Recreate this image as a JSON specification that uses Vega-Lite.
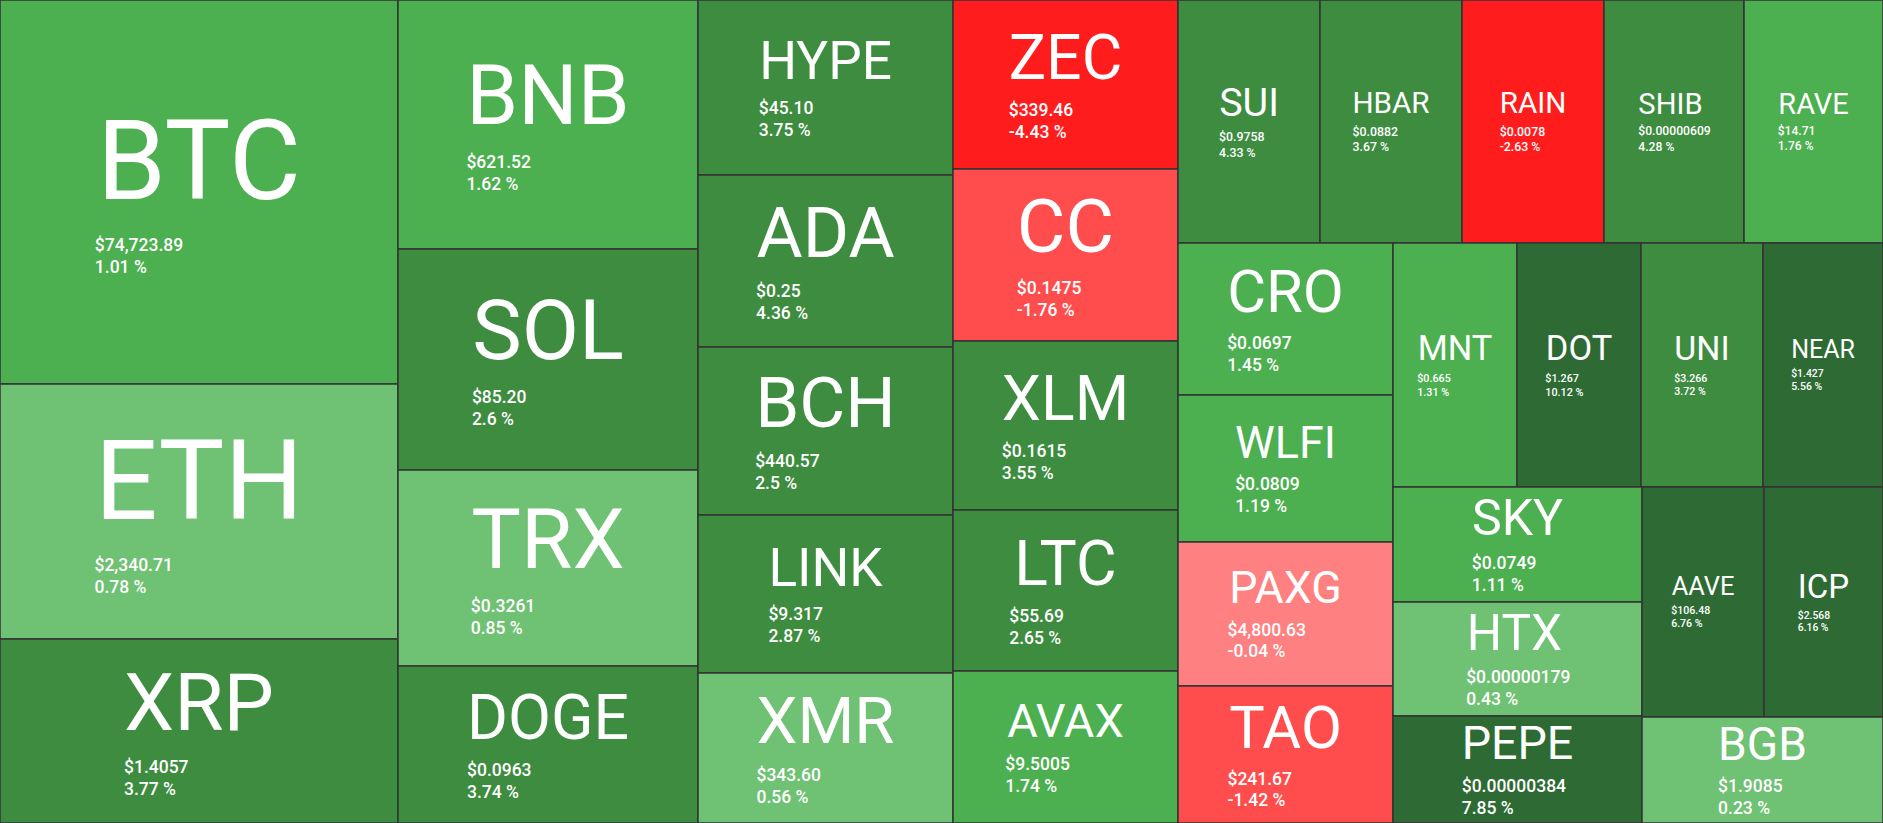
{
  "$schema": "https://vega.github.io/schema/vega-lite/v6.json",
  "width": 1883,
  "height": 823,
  "padding": 0,
  "autosize": {"type": "none"},
  "background": "#ffffff",
  "config": {"view": {"stroke": null}},
  "data": {
    "values": [
      {"name": "BTC", "price": "$74,723.89", "change": 1.01, "x0": 0, "x1": 398, "y0": 0, "y1": 384},
      {"name": "ETH", "price": "$2,340.71", "change": 0.78, "x0": 0, "x1": 398, "y0": 384, "y1": 639},
      {"name": "XRP", "price": "$1.4057", "change": 3.77, "x0": 0, "x1": 398, "y0": 639, "y1": 823},
      {"name": "BNB", "price": "$621.52", "change": 1.62, "x0": 398, "x1": 698, "y0": 0, "y1": 249},
      {"name": "SOL", "price": "$85.20", "change": 2.6, "x0": 398, "x1": 698, "y0": 249, "y1": 470},
      {"name": "TRX", "price": "$0.3261", "change": 0.85, "x0": 398, "x1": 698, "y0": 470, "y1": 666},
      {"name": "DOGE", "price": "$0.0963", "change": 3.74, "x0": 398, "x1": 698, "y0": 666, "y1": 823},
      {"name": "HYPE", "price": "$45.10", "change": 3.75, "x0": 698, "x1": 953, "y0": 0, "y1": 175},
      {"name": "ADA", "price": "$0.25", "change": 4.36, "x0": 698, "x1": 953, "y0": 175, "y1": 347},
      {"name": "BCH", "price": "$440.57", "change": 2.5, "x0": 698, "x1": 953, "y0": 347, "y1": 515},
      {"name": "LINK", "price": "$9.317", "change": 2.87, "x0": 698, "x1": 953, "y0": 515, "y1": 673},
      {"name": "XMR", "price": "$343.60", "change": 0.56, "x0": 698, "x1": 953, "y0": 673, "y1": 823},
      {"name": "ZEC", "price": "$339.46", "change": -4.43, "x0": 953, "x1": 1178, "y0": 0, "y1": 169},
      {"name": "CC", "price": "$0.1475", "change": -1.76, "x0": 953, "x1": 1178, "y0": 169, "y1": 341},
      {"name": "XLM", "price": "$0.1615", "change": 3.55, "x0": 953, "x1": 1178, "y0": 341, "y1": 510},
      {"name": "LTC", "price": "$55.69", "change": 2.65, "x0": 953, "x1": 1178, "y0": 510, "y1": 671},
      {"name": "AVAX", "price": "$9.5005", "change": 1.74, "x0": 953, "x1": 1178, "y0": 671, "y1": 823},
      {"name": "SUI", "price": "$0.9758", "change": 4.33, "x0": 1178, "x1": 1320, "y0": 0, "y1": 243},
      {"name": "HBAR", "price": "$0.0882", "change": 3.67, "x0": 1320, "x1": 1462, "y0": 0, "y1": 243},
      {"name": "RAIN", "price": "$0.0078", "change": -2.63, "x0": 1462, "x1": 1604, "y0": 0, "y1": 243},
      {"name": "SHIB", "price": "$0.00000609", "change": 4.28, "x0": 1604, "x1": 1744, "y0": 0, "y1": 243},
      {"name": "RAVE", "price": "$14.71", "change": 1.76, "x0": 1744, "x1": 1883, "y0": 0, "y1": 243},
      {"name": "CRO", "price": "$0.0697", "change": 1.45, "x0": 1178, "x1": 1393, "y0": 243, "y1": 395},
      {"name": "WLFI", "price": "$0.0809", "change": 1.19, "x0": 1178, "x1": 1393, "y0": 395, "y1": 542},
      {"name": "PAXG", "price": "$4,800.63", "change": -0.04, "x0": 1178, "x1": 1393, "y0": 542, "y1": 686},
      {"name": "TAO", "price": "$241.67", "change": -1.42, "x0": 1178, "x1": 1393, "y0": 686, "y1": 823},
      {"name": "MNT", "price": "$0.665", "change": 1.31, "x0": 1393, "x1": 1517, "y0": 243, "y1": 487},
      {"name": "DOT", "price": "$1.267", "change": 10.12, "x0": 1517, "x1": 1641, "y0": 243, "y1": 487},
      {"name": "UNI", "price": "$3.266", "change": 3.72, "x0": 1641, "x1": 1763, "y0": 243, "y1": 487},
      {"name": "NEAR", "price": "$1.427", "change": 5.56, "x0": 1763, "x1": 1883, "y0": 243, "y1": 487},
      {"name": "SKY", "price": "$0.0749", "change": 1.11, "x0": 1393, "x1": 1642, "y0": 487, "y1": 602},
      {"name": "HTX", "price": "$0.00000179", "change": 0.43, "x0": 1393, "x1": 1642, "y0": 602, "y1": 716},
      {"name": "PEPE", "price": "$0.00000384", "change": 7.85, "x0": 1393, "x1": 1642, "y0": 716, "y1": 823},
      {"name": "AAVE", "price": "$106.48", "change": 6.76, "x0": 1642, "x1": 1764, "y0": 487, "y1": 717},
      {"name": "ICP", "price": "$2.568", "change": 6.16, "x0": 1764, "x1": 1883, "y0": 487, "y1": 717},
      {"name": "BGB", "price": "$1.9085", "change": 0.23, "x0": 1642, "x1": 1883, "y0": 717, "y1": 823}
    ]
  },
  "transform": [
    {"calculate": "datum.x1 - datum.x0", "as": "w"},
    {"calculate": "datum.y1 - datum.y0", "as": "h"},
    {"calculate": "(datum.x0 + datum.x1) / 2", "as": "cx"},
    {"calculate": "(datum.y0 + datum.y1) / 2", "as": "cy"},
    {"calculate": "length(datum.name)", "as": "len"},
    {"calculate": "min(datum.w / (1.2 * datum.len), datum.h / 2.3)", "as": "nameSize"},
    {"calculate": "min(17.5, datum.w / 11.5)", "as": "priceSize"},
    {"calculate": "(datum.len > 0 ? [0.652,0.623,0.651,0.656,0.568,0.553,0.681,0.713,0.272,0.552,0.626,0.538,0.874,0.713,0.687,0.631,0.687,0.616,0.601,0.610,0.648,0.636,0.886,0.628,0.600,0.599][indexof('ABCDEFGHIJKLMNOPQRSTUVWXYZ', substring(datum.name,0,1))] : 0) + (datum.len > 1 ? [0.652,0.623,0.651,0.656,0.568,0.553,0.681,0.713,0.272,0.552,0.626,0.538,0.874,0.713,0.687,0.631,0.687,0.616,0.601,0.610,0.648,0.636,0.886,0.628,0.600,0.599][indexof('ABCDEFGHIJKLMNOPQRSTUVWXYZ', substring(datum.name,1,2))] : 0) + (datum.len > 2 ? [0.652,0.623,0.651,0.656,0.568,0.553,0.681,0.713,0.272,0.552,0.626,0.538,0.874,0.713,0.687,0.631,0.687,0.616,0.601,0.610,0.648,0.636,0.886,0.628,0.600,0.599][indexof('ABCDEFGHIJKLMNOPQRSTUVWXYZ', substring(datum.name,2,3))] : 0) + (datum.len > 3 ? [0.652,0.623,0.651,0.656,0.568,0.553,0.681,0.713,0.272,0.552,0.626,0.538,0.874,0.713,0.687,0.631,0.687,0.616,0.601,0.610,0.648,0.636,0.886,0.628,0.600,0.599][indexof('ABCDEFGHIJKLMNOPQRSTUVWXYZ', substring(datum.name,3,4))] : 0)", "as": "nameAdv"},
    {"calculate": "datum.nameAdv * datum.nameSize", "as": "nameW"},
    {"calculate": "length(datum.price) - length(replace(datum.price, regexp('[.,]', 'g'), ''))", "as": "nPunct"},
    {"calculate": "(0.562 * (length(datum.price) - datum.nPunct) + 0.25 * datum.nPunct) * datum.priceSize", "as": "priceW"},
    {"calculate": "max(datum.nameW, datum.priceW)", "as": "blockW"},
    {"calculate": "datum.cx - datum.blockW / 2", "as": "left"},
    {"calculate": "datum.nameW >= datum.priceW ? datum.cx : datum.left + datum.nameW / 2", "as": "nameX"},
    {"calculate": "datum.left", "as": "priceX"},
    {"calculate": "datum.cy + 0.268 * datum.nameSize - 1.29 * datum.priceSize", "as": "nameY"},
    {"calculate": "datum.nameY + 0.304 * datum.nameSize + 1.06 * datum.priceSize", "as": "priceY"},
    {"calculate": "datum.priceY + 1.25 * datum.priceSize", "as": "changeY"},
    {"calculate": "datum.change + ' %'", "as": "changeText"}
  ],
  "layer": [
    {
      "mark": {"type": "rect", "stroke": "#333333", "strokeWidth": 1.5},
      "encoding": {
        "x": {"field": "x0", "type": "quantitative", "scale": {"domain": [0, 1883], "nice": false, "zero": false}, "axis": null},
        "x2": {"field": "x1"},
        "y": {"field": "y0", "type": "quantitative", "scale": {"domain": [0, 823], "nice": false, "zero": false, "reverse": true}, "axis": null},
        "y2": {"field": "y1"},
        "color": {
          "field": "change",
          "type": "quantitative",
          "scale": {"type": "threshold", "domain": [-2, -1, 0, 1, 2, 5], "range": ["#ff1c1c", "#ff4d4d", "#ff8080", "#6fc174", "#4caf50", "#3d8c40", "#2e6b34"]},
          "legend": null
        }
      }
    },
    {
      "mark": {"type": "text", "align": "center", "baseline": "alphabetic", "font": "Roboto", "fill": "#ffffff"},
      "encoding": {
        "x": {"field": "nameX", "type": "quantitative"},
        "y": {"field": "nameY", "type": "quantitative"},
        "text": {"field": "name"},
        "size": {"field": "nameSize", "type": "quantitative", "scale": null, "legend": null}
      }
    },
    {
      "mark": {"type": "text", "align": "left", "baseline": "alphabetic", "font": "Roboto", "fontWeight": 500, "fill": "#ffffff"},
      "encoding": {
        "x": {"field": "priceX", "type": "quantitative"},
        "y": {"field": "priceY", "type": "quantitative"},
        "text": {"field": "price"},
        "size": {"field": "priceSize", "type": "quantitative", "scale": null, "legend": null}
      }
    },
    {
      "mark": {"type": "text", "align": "left", "baseline": "alphabetic", "font": "Roboto", "fontWeight": 500, "fill": "#ffffff"},
      "encoding": {
        "x": {"field": "priceX", "type": "quantitative"},
        "y": {"field": "changeY", "type": "quantitative"},
        "text": {"field": "changeText"},
        "size": {"field": "priceSize", "type": "quantitative", "scale": null, "legend": null}
      }
    }
  ]
}
